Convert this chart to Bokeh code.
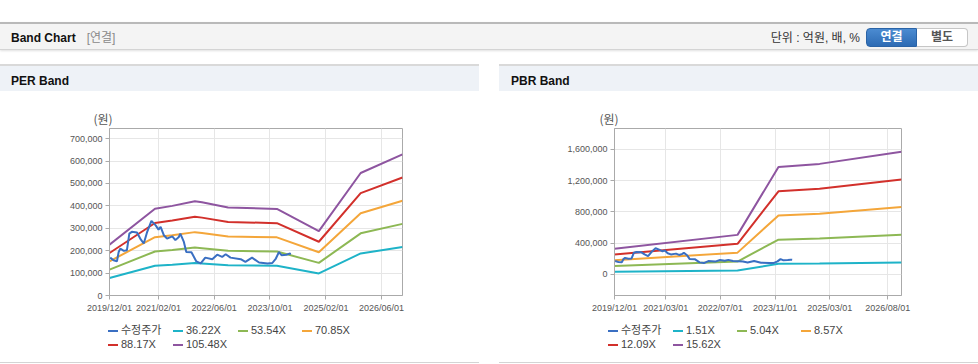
import pandas as pd
from bokeh.plotting import figure
from bokeh.models import (Range1d, FixedTicker, NumeralTickFormatter, DatetimeTickFormatter, Div)
from bokeh.layouts import column, row
from bokeh.embed import file_html
from bokeh.resources import INLINE

# ---------------- data ----------------
price_label = "수정주가"
price_dates = ["2019-12-07", "2020-01-05", "2020-02-04", "2020-02-19", "2020-03-04", "2020-04-04",
               "2020-05-01", "2020-05-22", "2020-06-13", "2020-07-28", "2020-08-25", "2020-09-25",
               "2020-10-25", "2020-12-01", "2021-01-07", "2021-02-01", "2021-02-19", "2021-03-19",
               "2021-04-16", "2021-06-01", "2021-06-28", "2021-07-28", "2021-08-10", "2021-09-10",
               "2021-10-01", "2021-11-15", "2021-12-28", "2022-02-04", "2022-03-16", "2022-05-16",
               "2022-06-28", "2022-08-10", "2022-09-10", "2022-10-22", "2023-01-19", "2023-03-01",
               "2023-04-28", "2023-06-28", "2023-09-10", "2023-10-22", "2023-11-22", "2023-12-19",
               "2024-01-10", "2024-02-22", "2024-03-19", "2024-04-01"]
price_values = [169000, 157000, 153000, 194000, 209000, 199000,
                202000, 276000, 284000, 281000, 254000, 232000,
                284000, 333000, 313000, 294000, 306000, 269000,
                254000, 264000, 247000, 261000, 276000, 239000,
                194000, 193000, 152000, 143000, 169000, 162000,
                182000, 172000, 184000, 169000, 162000, 150000,
                169000, 147000, 143000, 145000, 165000, 194000,
                180000, 182000, 187000, 185000]

# EPS (원) behind the PER band lines
per_eps_dates = ["2019-12-01", "2021-01-01", "2021-06-01", "2021-12-15", "2022-02-15",
                 "2022-10-01", "2023-12-01", "2024-12-01", "2025-12-01", "2026-12-01"]
per_eps = [2150, 3670, 3790, 3990, 3940, 3720, 3660, 2720, 5180, 5970]
per_multiples = [36.22, 53.54, 70.85, 88.17, 105.48]

# BPS (원) behind the PBR band lines
pbr_bps_dates = ["2019-12-01", "2022-12-01", "2023-12-01", "2024-12-01", "2026-12-01"]
pbr_bps = [21000, 32300, 88000, 90600, 100500]
pbr_multiples = [1.51, 5.04, 8.57, 12.09, 15.62]

per_xticks = ["2019-12-01", "2021-02-01", "2022-06-01", "2023-10-01", "2025-02-01", "2026-06-01"]
pbr_xticks = ["2019-12-01", "2021-03-01", "2022-07-01", "2023-11-01", "2025-03-01", "2026-08-01"]
per_yticks = [0, 100000, 200000, 300000, 400000, 500000, 600000, 700000]
pbr_yticks = [0, 400000, 800000, 1200000, 1600000]
x_start, x_end = "2019-12-01", "2026-12-01"
unit_text = "(원)"

price_color = "#3a6fc2"
band_colors = ["#1eb3c8", "#8db854", "#f4a63a", "#d2302b", "#8e55a0"]
GRAY = "#aaaaaa"


def ms(d):
    return pd.Timestamp(d).value // 10**6


def make_chart(width, bl, br, base_dates, base_vals, mults, y0, y1, yticks, xticks, title_off):
    p = figure(width=width, height=225, x_axis_type="datetime",
               output_backend="svg", toolbar_location=None,
               x_range=Range1d(pd.Timestamp(x_start), pd.Timestamp(x_end)),
               y_range=Range1d(y0, y1),
               min_border_left=bl, min_border_right=br, min_border_top=35, min_border_bottom=23)
    p.outline_line_color = GRAY
    p.background_fill_color = "white"
    p.border_fill_color = "white"

    p.title.text = unit_text
    p.title.align = "left"
    p.title.offset = title_off
    p.title.standoff = 4
    p.title.text_font = "Noto Sans CJK KR"
    p.title.text_font_size = "12px"
    p.title.text_font_style = "normal"
    p.title.text_color = "#555555"

    p.xaxis.ticker = FixedTicker(ticks=[ms(d) for d in xticks])
    fmt = "%Y/%m/%d"
    p.xaxis.formatter = DatetimeTickFormatter(milliseconds=fmt, seconds=fmt, minsec=fmt, minutes=fmt,
                                              hourmin=fmt, hours=fmt, days=fmt, months=fmt, years=fmt)
    p.yaxis.ticker = FixedTicker(ticks=yticks)
    p.yaxis.formatter = NumeralTickFormatter(format="0,0")
    for ax in (p.xaxis[0], p.yaxis[0]):
        ax.axis_line_color = GRAY
        ax.major_tick_line_color = GRAY
        ax.major_tick_in = 0
        ax.major_tick_out = 4
        ax.minor_tick_line_color = None
        ax.major_label_text_font_size = "9px"
        ax.major_label_text_color = "#555555"
        ax.major_label_text_font = "Liberation Sans"
        ax.major_label_standoff = 3
    p.xgrid.grid_line_color = "#e6e6e6"
    p.ygrid.grid_line_color = "#e6e6e6"

    bx = pd.to_datetime(base_dates)
    for m, c in zip(mults, band_colors):
        vals = [v * m for v in base_vals]
        p.line(bx, vals, line_color=c, line_width=2)
    p.line(pd.to_datetime(price_dates), price_values, line_color=price_color, line_width=2)
    return p


def make_legend(width, mults, col_x):
    labels = [price_label] + [f"{m:.2f}X" for m in mults]
    colors = [price_color] + band_colors
    row_tops = [6, 19.5]
    parts = ['<div style="position:relative;width:%dpx;height:46px;'
             'font-family:\'Liberation Sans\',\'Noto Sans CJK KR\',sans-serif;">' % width]
    for i, (lab, c) in enumerate(zip(labels, colors)):
        x = col_x[i % 4]
        y = row_tops[i // 4]
        parts.append(
            '<div style="position:absolute;left:%gpx;top:%gpx;height:13px;line-height:13px;'
            'font-size:11px;color:#444;white-space:nowrap;">'
            '<span style="display:inline-block;width:10px;height:2px;background:%s;'
            'vertical-align:middle;margin-right:3px;"></span>%s</div>' % (x, y, c, lab))
    parts.append('<div style="position:absolute;left:0;top:44px;width:479px;height:0;'
                 'border-top:1px solid #d4d4d4;"></div>')
    parts.append('</div>')
    return Div(text="".join(parts), width=width, height=46, margin=(0, 0, 0, 0))


per = make_chart(499, 109, 97, per_eps_dates, per_eps, per_multiples,
                 0, 745000, per_yticks, per_xticks, -16)
pbr = make_chart(479, 115, 77, pbr_bps_dates, pbr_bps, pbr_multiples,
                 -273000, 1869000, pbr_yticks, pbr_xticks, -15)
per_leg = make_legend(499, per_multiples, [108, 173, 238, 302])
pbr_leg = make_legend(479, pbr_multiples, [109, 174, 238, 302])

html = """
<div style="position:relative;left:0;top:0;width:978px;height:93px;font-family:'Liberation Sans','Noto Sans CJK KR',sans-serif;">
  <div style="position:absolute;left:0;top:22px;width:978px;height:28px;background:#f4f4f4;border-top:2px solid #b9b9b9;border-bottom:1px solid #d4d4d4;box-shadow:0 1px 2px rgba(0,0,0,0.12);"></div>
  <div style="position:absolute;left:11px;top:30px;font-size:12px;font-weight:bold;color:#111;line-height:16px;white-space:nowrap;">Band Chart<span style="font-weight:normal;color:#8a8a8a;margin-left:11px;">[연결]</span></div>
  <div style="position:absolute;right:118px;top:30px;font-size:12px;color:#333;line-height:16px;white-space:nowrap;">단위 : 억원, 배, %</div>
  <div style="position:absolute;left:866px;top:28px;width:51px;height:19px;box-sizing:border-box;background:linear-gradient(#4b8bd1,#2d6bb4);border:1px solid #2a63a6;border-radius:4px 0 0 4px;color:#fff;font-weight:bold;font-size:12px;text-align:center;line-height:17px;">연결</div>
  <div style="position:absolute;left:917px;top:28px;width:51px;height:19px;box-sizing:border-box;background:#fff;border:1px solid #c6c6c6;border-left:none;border-radius:0 4px 4px 0;color:#555;font-weight:bold;font-size:12px;text-align:center;line-height:17px;">별도</div>
  <div style="position:absolute;left:0;top:64px;width:479px;height:27px;background:#eef2f7;border-top:2px solid #d9d9d9;"></div>
  <div style="position:absolute;left:499px;top:64px;width:479px;height:27px;background:#eef2f7;border-top:2px solid #d9d9d9;"></div>
  <div style="position:absolute;left:11px;top:73px;font-size:12px;font-weight:bold;color:#111;line-height:16px;">PER Band</div>
  <div style="position:absolute;left:511px;top:73px;font-size:12px;font-weight:bold;color:#111;line-height:16px;">PBR Band</div>
</div>
"""
header = Div(text=html, width=978, height=93, margin=(0, 0, 0, 0))

layout = column(header,
                row(column(per, per_leg, spacing=0), column(pbr, pbr_leg, spacing=0), spacing=0),
                spacing=0)

open("out.html", "w").write(file_html(layout, INLINE))
